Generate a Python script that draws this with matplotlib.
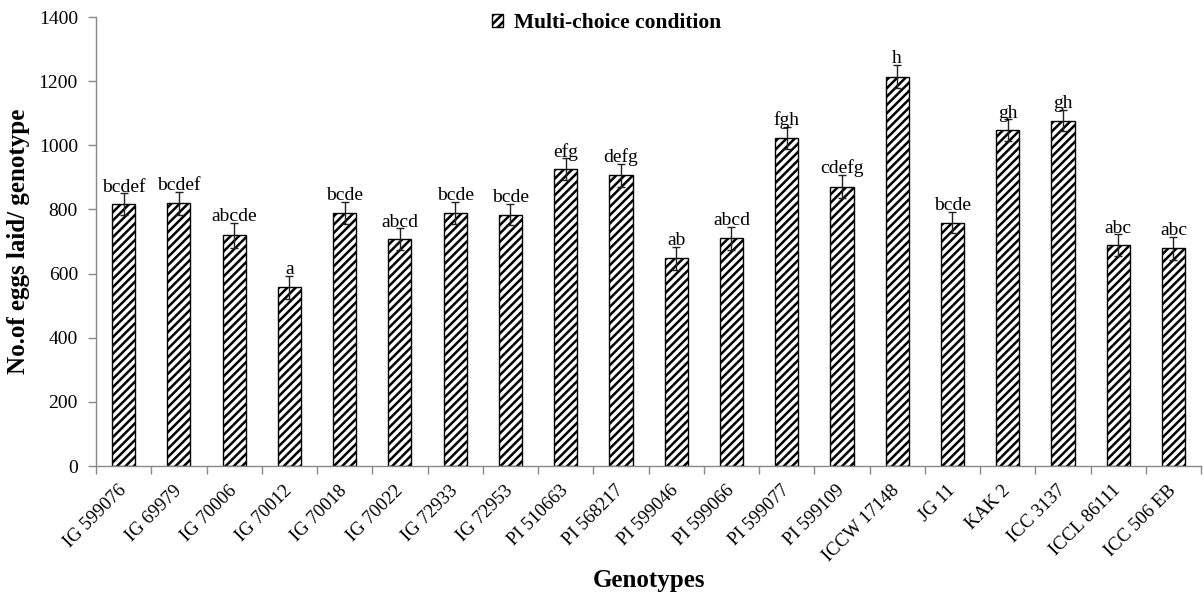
import numpy as np
import matplotlib.pyplot as plt
import matplotlib.transforms as mtransforms

genotypes = ["IG 599076", "IG 69979", "IG 70006", "IG 70012", "IG 70018", "IG 70022",
             "IG 72933", "IG 72953", "PI 510663", "PI 568217", "PI 599046", "PI 599066",
             "PI 599077", "PI 599109", "ICCW 17148", "JG 11", "KAK 2", "ICC 3137",
             "ICCL 86111", "ICC 506 EB"]
eggs = [816, 819, 719, 557, 790, 707, 790, 784, 926, 906,
        648, 710, 1024, 871, 1214, 759, 1047, 1077, 688, 679]
errors = [34, 36, 39, 35, 34, 34, 34, 34, 33, 35,
          36, 36, 34, 36, 36, 34, 34, 33, 34, 36]
letters = ["bcdef", "bcdef", "abcde", "a", "bcde", "abcd", "bcde", "bcde", "efg", "defg",
           "ab", "abcd", "fgh", "cdefg", "h", "bcde", "gh", "gh", "abc", "abc"]

plt.rcParams['font.family'] = ['Liberation Serif', 'DejaVu Serif']
plt.rcParams['hatch.linewidth'] = 1.8

fig = plt.figure(figsize=(12.03, 5.97), dpi=100)
ax = fig.add_axes([0.0798, 0.2194, 0.9186, 0.7521])

x = np.arange(len(genotypes))
ax.bar(x, eggs, width=0.42, color="white", edgecolor="black", linewidth=1.0,
       hatch="////", label="Multi-choice condition", zorder=2)
ax.errorbar(x, eggs, yerr=errors, fmt="none", ecolor="#222222", elinewidth=1.0,
            capsize=3, capthick=1.0, zorder=3)

for xi, v, e, t in zip(x, eggs, errors, letters):
    ax.text(xi, v + e - 7, t, ha="center", va="bottom", fontsize=14, zorder=4)

ax.set_xlim(-0.5, len(genotypes) - 0.5)
ax.set_ylim(0, 1400)
ax.set_yticks(np.arange(0, 1401, 200))
ax.set_xticks(x)
ax.set_xticklabels(genotypes, rotation=45, ha="right", va="center",
                   rotation_mode="anchor", fontsize=13.5)
shift = mtransforms.ScaledTranslation(4 / 100, 0, fig.dpi_scale_trans)
for lab in ax.get_xticklabels():
    lab.set_transform(lab.get_transform() + shift)
ax.set_xticks(np.arange(-0.5, len(genotypes), 1), minor=True)
ax.tick_params(axis="x", which="major", length=0, pad=16)
ax.tick_params(axis="x", which="minor", length=6, color="#888888", width=1)
ax.tick_params(axis="y", length=6, color="#888888", width=1, labelsize=14, pad=7)

for s in ["top", "right"]:
    ax.spines[s].set_visible(False)
for s in ["left", "bottom"]:
    ax.spines[s].set_color("#888888")
    ax.spines[s].set_linewidth(1.0)

ax.set_ylabel("No.of eggs laid/ genotype", fontsize=18, fontweight="bold", va="center")
ax.yaxis.set_label_coords(-(96 - 19) / 1105, 0.5)
ax.set_xlabel("Genotypes", fontsize=18, fontweight="bold", va="center")
ax.xaxis.set_label_coords(0.5, -(580 - 466) / 449)

fig.legend(loc="center", bbox_to_anchor=(606.5 / 1203, 1 - 23 / 597), frameon=False,
           handlelength=0.55, handleheight=0.55, handletextpad=0.5,
           prop={"weight": "bold", "size": 15.5})

fig.savefig("out.png", dpi=100)
